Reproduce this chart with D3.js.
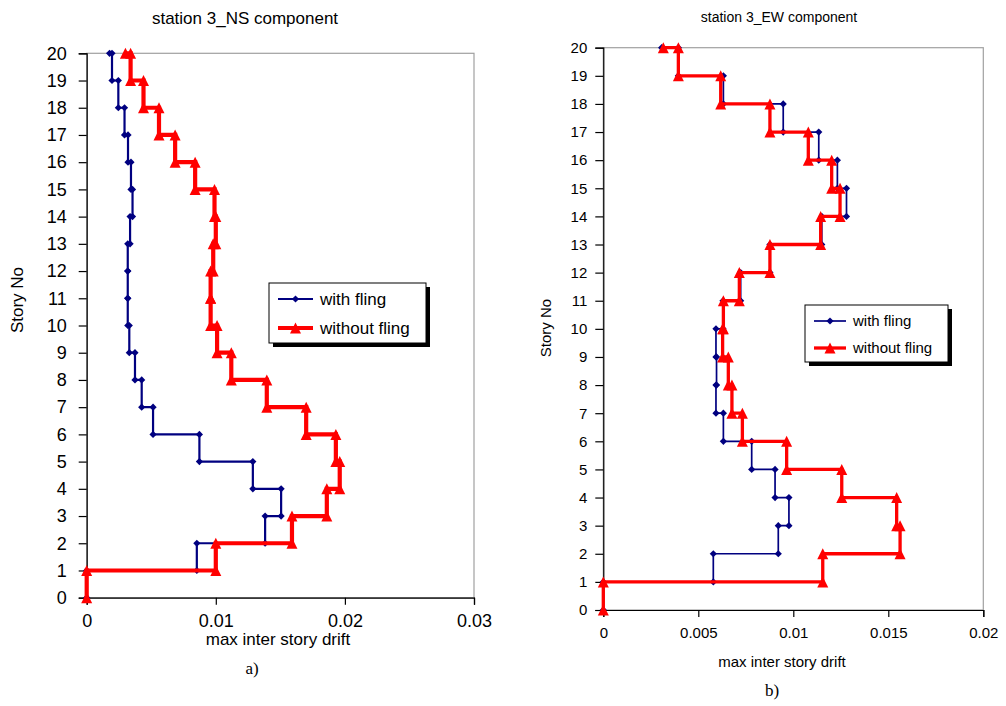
<!DOCTYPE html>
<html><head><meta charset="utf-8">
<script src="https://cdn.jsdelivr.net/npm/d3@7"></script>
<style>body{margin:0;background:#fff} text{font-family:"Liberation Sans",Arial,sans-serif;fill:#000}</style>
</head><body><svg id="c" width="1006" height="706"></svg>
<script>
// drift value of each story segment k (from story k to k+1), last value is the top point at story 20
const stories = d3.range(0, 21);
const nsWithFling    = [0, 0.00853, 0.01382, 0.01506, 0.01287, 0.00873, 0.00514, 0.00426, 0.00374, 0.0033, 0.00318, 0.00318, 0.00318, 0.00336, 0.00355, 0.00343, 0.0032, 0.00293, 0.00245, 0.00196, 0.00177];
const nsWithoutFling = [0, 0.0100, 0.0159, 0.0186, 0.0196, 0.0193, 0.0170, 0.01395, 0.0112, 0.0101, 0.0096, 0.0096, 0.0098, 0.0100, 0.0099, 0.0084, 0.00685, 0.0056, 0.0044, 0.0034, 0.0030];
const ewWithFling    = [0, 0.00579, 0.00921, 0.00977, 0.00904, 0.00781, 0.00632, 0.00593, 0.00596, 0.00593, 0.0063, 0.00723, 0.00877, 0.0115, 0.0128, 0.01232, 0.01134, 0.00947, 0.00632, 0.00395, 0.00307];
const ewWithoutFling = [0, 0.01155, 0.01562, 0.01544, 0.01255, 0.00965, 0.00732, 0.00677, 0.00658, 0.00628, 0.00632, 0.00716, 0.00877, 0.01144, 0.01246, 0.01202, 0.01079, 0.00877, 0.00618, 0.00395, 0.00316];
const nsXTicks = [0, 0.01, 0.02, 0.03];
const ewXTicks = [0, 0.005, 0.01, 0.015, 0.02];
const seriesNames = ["with fling", "without fling"];

const svg = d3.select("#c");

function stepPoints(vals) {
  const pts = [];
  for (let k = 0; k < 20; k++) { pts.push([vals[k], stories[k]]); pts.push([vals[k], stories[k + 1]]); }
  pts.push([vals[20], stories[20]]);
  return pts;
}
const diamond = r => `M0,${-r}L${r},0L0,${r}L${-r},0Z`;
const tri = (w, h) => `M0,${-h/2}L${w/2},${h/2}L${-w/2},${h/2}Z`;

function panel(cfg) {
  const x = d3.scaleLinear().domain(cfg.xdom).range(cfg.xr);
  const y = d3.scaleLinear().domain([0, 20]).range(cfg.yr);
  const g = svg.append("g");
  g.append("rect").attr("x", cfg.xr[0]).attr("y", cfg.yr[1])
    .attr("width", cfg.xr[1] - cfg.xr[0]).attr("height", cfg.yr[0] - cfg.yr[1])
    .attr("fill", "none").attr("stroke", "#a0a0a0").attr("stroke-width", 1.2);
  const ya = g.append("g").attr("transform", `translate(${cfg.xr[0]},0)`)
    .call(d3.axisLeft(y).tickValues(stories).tickSize(8).tickPadding(cfg.tpadY).tickFormat(d3.format("d")));
  const xa = g.append("g").attr("transform", `translate(0,${cfg.yr[0]})`)
    .call(d3.axisBottom(x).tickValues(cfg.xticks).tickSize(7).tickPadding(cfg.tpadX).tickFormat(d => d === 0 ? "0" : String(d)));
  [ya, xa].forEach(a => {
    a.select(".domain").attr("stroke", "#000").attr("stroke-width", 1.2);
    a.selectAll(".tick line").attr("stroke", "#000").attr("stroke-width", 1.2);
    a.selectAll("text").attr("font-size", cfg.tfs).attr("font-family", '"Liberation Sans",Arial,sans-serif');
  });
  const line = d3.line().x(d => x(d[0])).y(d => y(d[1]));
  const pb = stepPoints(cfg.blue);
  g.append("path").attr("d", line(pb)).attr("fill", "none").attr("stroke", "#000080").attr("stroke-width", cfg.bw);
  g.selectAll(".db").data(pb).enter().append("path").attr("d", diamond(3.6))
    .attr("transform", d => `translate(${x(d[0])},${y(d[1])})`).attr("fill", "#000080");
  const pr = stepPoints(cfg.red);
  g.append("path").attr("d", line(pr)).attr("fill", "none").attr("stroke", "#ff0000").attr("stroke-width", cfg.rw);
  g.selectAll(".tr").data(pr).enter().append("path").attr("d", tri(11, 11))
    .attr("transform", d => `translate(${x(d[0])},${y(d[1])})`).attr("fill", "#ff0000");
  g.append("text").attr("x", cfg.title[0]).attr("y", cfg.title[1]).attr("text-anchor", "middle")
    .attr("font-size", cfg.titleFs).text(cfg.titleText);
  g.append("text").attr("transform", `translate(${cfg.ylab[0]},${cfg.ylab[1]}) rotate(-90)`).attr("text-anchor", "middle")
    .attr("font-size", cfg.labFs).text("Story No");
  g.append("text").attr("x", cfg.xlab[0]).attr("y", cfg.xlab[1]).attr("text-anchor", "middle")
    .attr("font-size", cfg.labFs).text("max inter story drift");
  g.append("text").attr("x", cfg.sub[0]).attr("y", cfg.sub[1]).attr("text-anchor", "middle")
    .attr("font-size", 17).style("font-family", '"Liberation Serif","Times New Roman",serif').text(cfg.subText);
  const L = cfg.leg;
  g.append("rect").attr("x", L.x + 4).attr("y", L.y + 4).attr("width", L.w).attr("height", L.h).attr("fill", "#000");
  g.append("rect").attr("x", L.x).attr("y", L.y).attr("width", L.w).attr("height", L.h)
    .attr("fill", "#fff").attr("stroke", "#000").attr("stroke-width", 1);
  seriesNames.forEach((nm, i) => {
    const yy = L.y + L.r0 + i * L.dr;
    const col = i === 0 ? "#000080" : "#ff0000";
    g.append("line").attr("x1", L.x + 9).attr("x2", L.x + 9 + L.sw).attr("y1", yy).attr("y2", yy)
      .attr("stroke", col).attr("stroke-width", i === 0 ? cfg.bw : cfg.rw);
    g.append("path").attr("d", i === 0 ? diamond(3.6) : tri(11, 11))
      .attr("transform", `translate(${L.x + 9 + L.sw / 2},${yy})`).attr("fill", col);
    g.append("text").attr("x", L.x + 16 + L.sw).attr("y", yy).attr("dy", "0.35em").attr("font-size", L.fs).text(nm);
  });
}

panel({
  xdom: [0, 0.03], xr: [86.7, 474], yr: [597.7, 53.3], xticks: nsXTicks,
  blue: nsWithFling, red: nsWithoutFling, bw: 2.2, rw: 4.2,
  tfs: 18, tpadY: 12, tpadX: 10,
  title: [245, 24], titleFs: 17, titleText: "station 3_NS component",
  ylab: [23, 300], xlab: [278, 645], labFs: 17,
  sub: [252, 674], subText: "a)",
  leg: { x: 269, y: 283, w: 157, h: 60, r0: 16, dr: 29, sw: 35, fs: 17 }
});
panel({
  xdom: [0, 0.02], xr: [603.3, 983.3], yr: [610, 47.7], xticks: ewXTicks,
  blue: ewWithFling, red: ewWithoutFling, bw: 1.7, rw: 3.3,
  tfs: 15, tpadY: 8, tpadX: 10,
  title: [779, 22], titleFs: 14, titleText: "station 3_EW component",
  ylab: [551, 328], xlab: [782, 667], labFs: 15,
  sub: [772, 696], subText: "b)",
  leg: { x: 805, y: 305, w: 143, h: 57, r0: 16, dr: 27, sw: 32, fs: 15 }
});
</script></body></html>
